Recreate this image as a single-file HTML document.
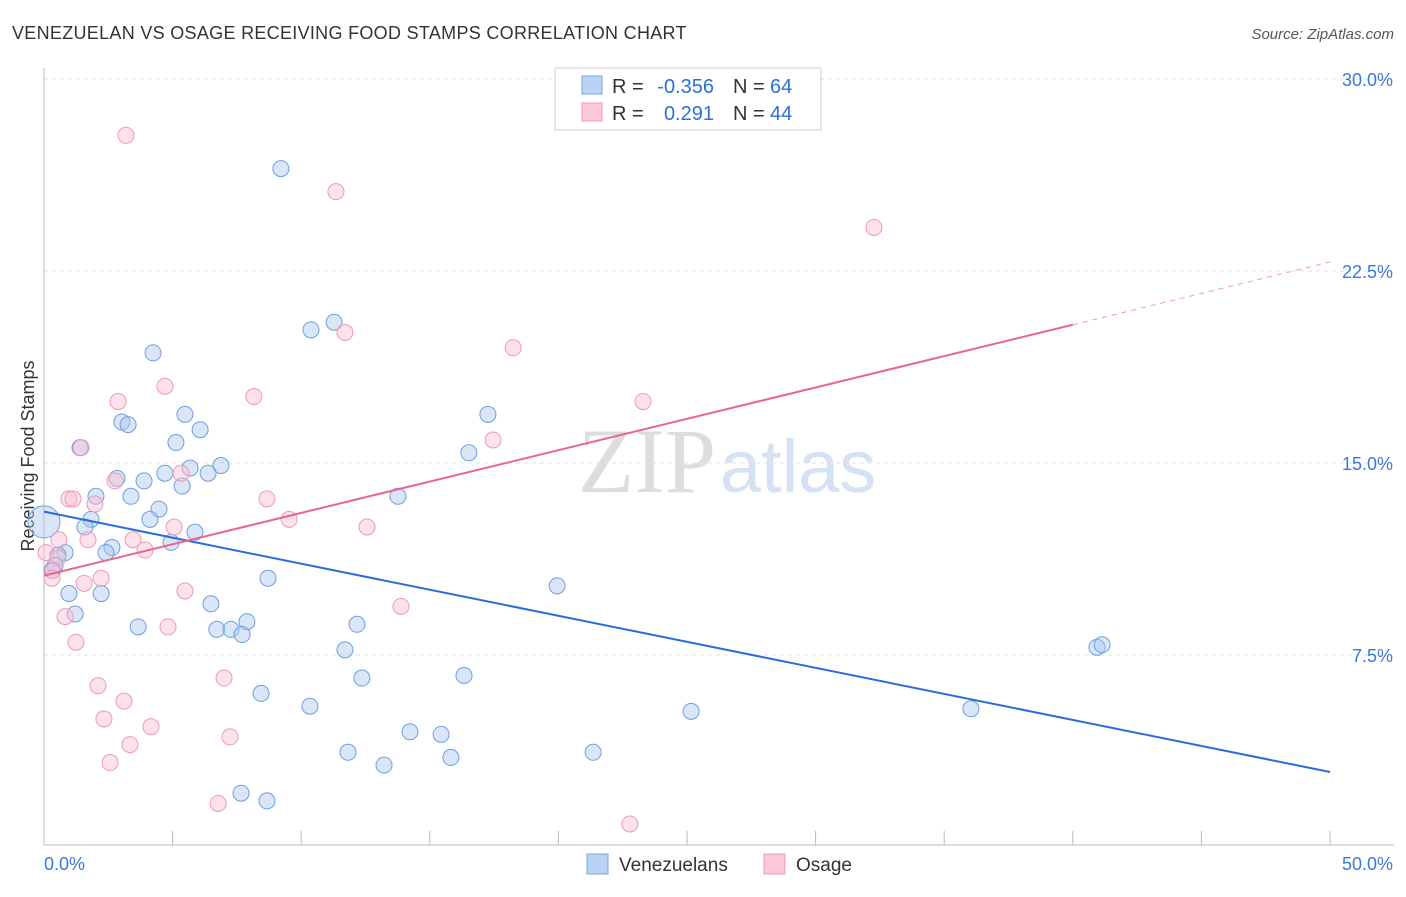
<!DOCTYPE html>
<html><head><meta charset="utf-8"><style>
body{margin:0;background:#fff;font-family:"Liberation Sans",sans-serif}
</style></head><body>
<svg id="c" width="1406" height="892" xmlns="http://www.w3.org/2000/svg" style="font-family:'Liberation Sans',sans-serif">
<text x="12" y="39" font-size="18" fill="#333" letter-spacing="0.3">VENEZUELAN VS OSAGE RECEIVING FOOD STAMPS CORRELATION CHART</text>
<text x="1394" y="39" font-size="15" fill="#555" text-anchor="end" font-style="italic">Source: ZipAtlas.com</text>
<text x="716" y="492" font-size="92" fill="#ddd" text-anchor="end" font-family="Liberation Serif">ZIP</text>
<text x="720" y="492" font-size="74" fill="#d4e2f3">atlas</text>
<text transform="translate(34,456) rotate(-90)" font-size="18" fill="#333" text-anchor="middle">Receiving Food Stamps</text>
<g id="grid"></g><g id="marks"></g>
<g>
<rect x="555" y="68" width="266" height="62" fill="#fff" stroke="#ccc"/>
<rect x="582" y="76" width="20" height="18" fill="#b8d3f3" stroke="#7aa7e0"/>
<rect x="582" y="103" width="20" height="18" fill="#fcc8d8" stroke="#ec9ab3"/>
<text x="612" y="93" font-size="20" fill="#333">R =</text>
<text x="714" y="93" font-size="20" fill="#2e6fd8" text-anchor="end">-0.356</text>
<text x="733" y="93" font-size="20" fill="#333">N =</text>
<text x="770" y="93" font-size="20" fill="#2e6fd8">64</text>
<text x="612" y="120" font-size="20" fill="#333">R =</text>
<text x="714" y="120" font-size="20" fill="#2e6fd8" text-anchor="end">0.291</text>
<text x="733" y="120" font-size="20" fill="#333">N =</text>
<text x="770" y="120" font-size="20" fill="#2e6fd8">44</text>
</g>
<g>
<rect x="587" y="854" width="21" height="20" fill="#b8d3f3" stroke="#7aa7e0"/>
<text x="619" y="871" font-size="19" fill="#333">Venezuelans</text>
<rect x="764" y="854" width="21" height="20" fill="#fcc8d8" stroke="#ec9ab3"/>
<text x="796" y="871" font-size="19" fill="#333">Osage</text>
</g>
</svg>
<script>
const yTicks=[7.5,15,22.5,30];
const yTickLabels=["7.5%","15.0%","22.5%","30.0%"];
const venX=[0,9.21,11.28,10.38,4.24,5.48,17.26,3.03,3.27,6.07,5.13,1.40,16.52,6.88,5.68,4.70,6.38,2.84,3.89,5.37,2.02,3.38,13.76,4.47,4.12,1.83,1.59,5.87,4.94,2.64,2.41,0.82,0.54,0.43,8.71,19.95,0.97,2.22,6.49,1.21,7.89,12.17,3.66,6.72,7.27,7.70,40.94,41.14,11.70,12.36,16.33,8.44,10.34,25.16,36.04,14.23,15.44,11.82,21.35,15.82,13.22,7.66,8.67,0.31];
const venY=[12.7,26.5,20.5,20.2,19.3,16.9,16.9,16.6,16.5,16.3,15.8,15.6,15.4,14.9,14.8,14.6,14.6,14.4,14.3,14.1,13.7,13.7,13.7,13.2,12.8,12.8,12.5,12.3,11.9,11.7,11.5,11.5,11.4,11.0,10.5,10.2,9.9,9.9,9.5,9.1,8.8,8.7,8.6,8.5,8.5,8.3,7.8,7.9,7.7,6.6,6.7,6.0,5.5,5.3,5.4,4.5,4.4,3.7,3.7,3.5,3.2,2.1,1.8,10.8];
const osX=[3.19,11.35,32.27,11.70,18.24,4.70,8.16,2.88,23.29,17.46,1.44,5.33,2.76,0.97,1.13,8.67,1.98,9.53,5.06,12.56,1.71,3.46,0.58,3.93,0.08,0.54,0.35,0.31,1.56,2.22,5.48,13.88,0.82,1.24,4.82,2.10,7.00,3.11,2.33,4.16,7.23,3.34,2.57,6.77,22.78];
const osY=[27.8,25.6,24.2,20.1,19.5,18.0,17.6,17.4,17.4,15.9,15.6,14.6,14.3,13.6,13.6,13.6,13.4,12.8,12.5,12.5,12.0,12.0,12.0,11.6,11.5,11.3,10.8,10.5,10.3,10.5,10.0,9.4,9.0,8.0,8.6,6.3,6.6,5.7,5.0,4.7,4.3,4.0,3.3,1.7,0.9];
const venLine=[0,13.1,50,2.93];
const osLine=[0,10.6,40,20.4,50,22.85];
const X=v=>44+v*25.72, Y=v=>847-v*25.6;
const NS="http://www.w3.org/2000/svg";
const mk=(t,a,p)=>{const e=document.createElementNS(NS,t);for(const k in a)e.setAttribute(k,a[k]);p.appendChild(e);return e;};
const g=document.getElementById('grid'),m=document.getElementById('marks');
yTicks.forEach((t,i)=>{
 const l=mk('line',{x1:44,x2:1394,y1:Y(t),y2:Y(t),stroke:'#e2e2e2','stroke-dasharray':'4,4'},g);
 
 
 const tx=mk('text',{x:1393,y:Y(t)+7,'font-size':18,fill:'#3b78d8','text-anchor':'end'},g);
 tx.textContent=yTickLabels[i];
 
 
});
const ax=mk('line',{x1:44,x2:44,y1:68,y2:845,stroke:'#bbb'},g);


const bx=mk('line',{x1:44,x2:1394,y1:845,y2:845,stroke:'#bbb'},g);


for(let i=0;i<=10;i++){const t=mk('line',{x1:X(i*5),x2:X(i*5),y1:831,y2:845,stroke:'#bbb'},g);
 
 }
[["0.0%",44,'start'],["50.0%",1393,'end']].forEach(a=>{const t=mk('text',{x:a[1],y:870,'font-size':18,fill:'#3b78d8','text-anchor':a[2]},g);t.textContent=a[0];
 
 });
venX.forEach((v,i)=>{const c=mk('circle',{cx:X(v),cy:Y(venY[i]),r:i==0?16:8,fill:'rgba(170,200,240,0.45)',stroke:'#6d9fe0','stroke-width':1},m);
 
 });
osX.forEach((v,i)=>{const c=mk('circle',{cx:X(v),cy:Y(osY[i]),r:8,fill:'rgba(250,190,210,0.45)',stroke:'#ee9ab4','stroke-width':1},m);
 
 });
const vl=mk('line',{x1:X(venLine[0]),y1:Y(venLine[1]),x2:X(venLine[2]),y2:Y(venLine[3]),stroke:'#2a6dd9','stroke-width':2},m);


const ol=mk('line',{x1:X(osLine[0]),y1:Y(osLine[1]),x2:X(osLine[2]),y2:Y(osLine[3]),stroke:'#e8658f','stroke-width':2},m);


const od=mk('line',{x1:X(osLine[2]),y1:Y(osLine[3]),x2:X(osLine[4]),y2:Y(osLine[5]),stroke:'#ee9ab4','stroke-width':1,'stroke-dasharray':'5,5'},m);


</script>
</body></html>
